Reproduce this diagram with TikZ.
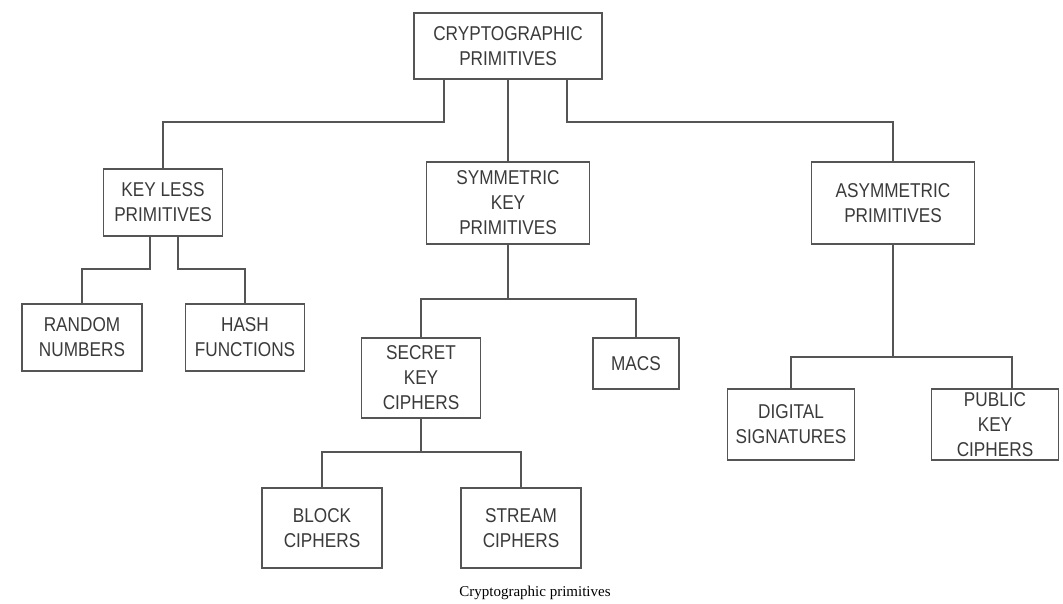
\documentclass[tikz,border=0pt]{standalone}
\usepackage{fontspec}
\setmainfont{Liberation Sans}[FakeStretch=0.86]
\newfontfamily\capfont{Liberation Serif}
\definecolor{linegray}{HTML}{555555}
\definecolor{textgray}{HTML}{3A3A3A}

\begin{document}
\begin{tikzpicture}[x=1pt,y=-1pt]
\tikzstyle{every node}+=[inner sep=0pt]
\tikzstyle{prim}=[draw=linegray, line width=1.6pt, align=center, text=textgray, font=\fontsize{20}{25}\selectfont]
\tikzstyle{wire}=[draw=linegray, line width=1.6pt]
\useasboundingbox (0,0) rectangle (1063,603);
\node [prim, minimum width=188pt, minimum height=66pt] (crypto) at (508,46) {CRYPTOGRAPHIC\\PRIMITIVES};
\node [prim, minimum width=119pt, minimum height=67pt] (keyless) at (163,202.5) {KEY LESS\\PRIMITIVES};
\node [prim, minimum width=163pt, minimum height=82pt] (symkey) at (508,203) {SYMMETRIC\\KEY\\PRIMITIVES};
\node [prim, minimum width=163pt, minimum height=82pt] (asym) at (893,203) {ASYMMETRIC\\PRIMITIVES};
\node [prim, minimum width=120pt, minimum height=67pt] (random) at (82,337.5) {RANDOM\\NUMBERS};
\node [prim, minimum width=119pt, minimum height=67pt] (hash) at (245,337.5) {HASH\\FUNCTIONS};
\node [prim, minimum width=119pt, minimum height=80pt] (secret) at (421,378) {SECRET\\KEY\\CIPHERS};
\node [prim, minimum width=86pt, minimum height=51pt] (macs) at (636,363.5) {MACS};
\node [prim, minimum width=127pt, minimum height=71pt] (digsig) at (791,424.5) {DIGITAL\\SIGNATURES};
\node [prim, minimum width=127pt, minimum height=71pt] (pubkey) at (995,424.5) {PUBLIC\\KEY\\CIPHERS};
\node [prim, minimum width=120pt, minimum height=80pt] (block) at (322,528) {BLOCK\\CIPHERS};
\node [prim, minimum width=120pt, minimum height=80pt] (stream) at (521,528) {STREAM\\CIPHERS};
\node [font=\capfont\fontsize{15}{18}\selectfont] (caption) at (535,593) {Cryptographic primitives};
\draw [wire] ([xshift=-64pt]crypto.south) -- ++(0,42) -| (keyless.north);
\draw [wire] (crypto.south) -- (symkey.north);
\draw [wire] ([xshift=59pt]crypto.south) -- ++(0,42) -| (asym.north);
\draw [wire] ([xshift=-13pt]keyless.south) -- ++(0,32) -| (random.north);
\draw [wire] ([xshift=15pt]keyless.south) -- ++(0,32) -| (hash.north);
\draw [wire] (symkey.south) -- ++(0,54) -| (secret.north);
\draw [wire] (symkey.south) -- ++(0,54) -| (macs.north);
\draw [wire] (asym.south) -- ++(0,112) -| (digsig.north);
\draw [wire] (asym.south) -- ++(0,112) -| ([xshift=17pt]pubkey.north);
\draw [wire] (secret.south) -- ++(0,33) -| (block.north);
\draw [wire] (secret.south) -- ++(0,33) -| (stream.north);
\end{tikzpicture}
\end{document}
